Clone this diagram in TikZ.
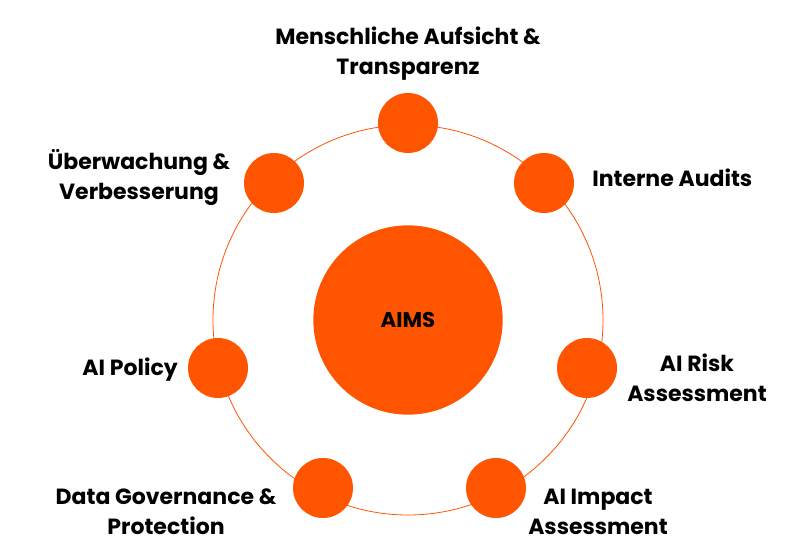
\documentclass[tikz,border=0pt]{standalone}
\usepackage{fontspec}
\setmainfont{Poppins}
\usepackage{xcolor}
\definecolor{aimsorange}{HTML}{FF5500}
\tikzset{
  ring/.style={draw=aimsorange, line width=0.6pt},
  hub/.style={circle, fill=aimsorange, minimum size=142pt, inner sep=0pt, font=\bfseries\fontsize{16}{22}\selectfont},
  dot/.style={circle, fill=aimsorange, minimum size=45pt, inner sep=0pt},
  lbl/.style={font=\bfseries\fontsize{16.5}{22.5}\selectfont, align=center, inner sep=0pt},
}
\begin{document}
\begin{tikzpicture}[x=0.75pt, y=-0.75pt]
  \useasboundingbox (0,0) rectangle (798,559);
  % ring and hub
  \node[coordinate] (c) at (408,320) {};
  \draw[ring] (c) circle[radius=146.25pt];
  \node[hub] (aims) at (c) {AIMS};
  % dots
  \node[dot] (top) at (408,123) {};
  \node[dot] (ul) at (274,183) {};
  \node[dot] (ur) at (544,183) {};
  \node[dot] (le) at (218,368) {};
  \node[dot] (ri) at (587,368) {};
  \node[dot] (bl) at (323,488) {};
  \node[dot] (br) at (496,488) {};
  % labels
  \node[lbl] at (408,54) {Menschliche Aufsicht \&\\Transparenz};
  \node[lbl, anchor=west] at (592,178) {Interne Audits};
  \node[lbl] at (139,177) {Überwachung \&\\Verbesserung};
  \node[lbl, anchor=east] at (178,370) {AI Policy};
  \node[lbl] at (697,378) {AI Risk\\Assessment};
  \node[lbl] at (166,512) {Data Governance \&\\Protection};
  \node[lbl] at (598,512) {AI Impact\\Assessment};
\end{tikzpicture}
\end{document}
